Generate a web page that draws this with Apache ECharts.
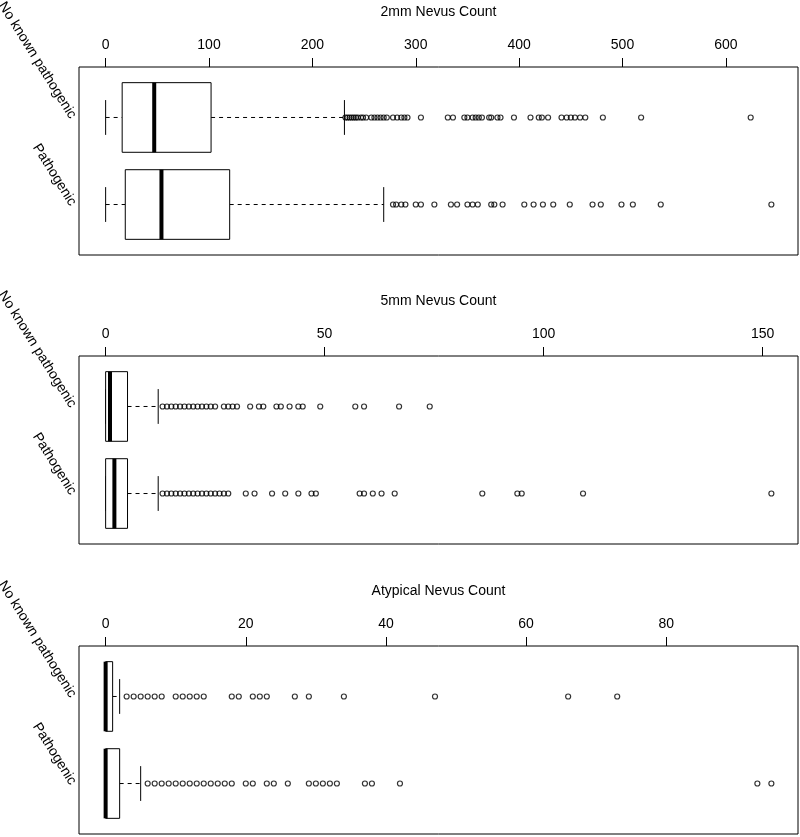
<!DOCTYPE html>
<html>
<head>
<meta charset="utf-8">
<script src="https://cdn.jsdelivr.net/npm/echarts@6/dist/echarts.min.js"></script>
<style>html,body{margin:0;padding:0;background:#fff}#c{width:800px;height:837px}</style>
</head>
<body>
<div id="c"></div>
<script>
const categories = ['No known pathogenic', 'Pathogenic'];
const panelTitles = ['2mm Nevus Count', '5mm Nevus Count', 'Atypical Nevus Count'];

const ticks2mm = [0, 100, 200, 300, 400, 500, 600];
const ticks5mm = [0, 50, 100, 150];
const ticksAtyp = [0, 20, 40, 60, 80];

// [lower whisker, Q1, median, Q3, upper whisker] for No known pathogenic, Pathogenic
const box2mm = [[0, 16, 47, 102, 231], [0, 19, 54, 120, 269]];
const box5mm = [[0, 0, 1, 5, 12], [0, 0, 2, 5, 12]];
const boxAtyp = [[0, 0, 0, 1, 2], [0, 0, 0, 2, 5]];

const out2mmNKP = [232, 234, 236, 238, 240, 242, 244, 247, 249, 252, 257, 260, 263, 266, 269, 272, 278, 282, 286, 289, 292, 305, 331, 336, 347, 350, 355, 358, 361, 364, 371, 373, 379, 382, 395, 411, 419, 422, 428, 441, 446, 450, 454, 459, 464, 481, 518, 624];
const out2mmPath = [278, 281, 286, 290, 300, 305, 318, 334, 340, 350, 355, 360, 373, 376, 384, 405, 414, 423, 433, 449, 471, 479, 499, 510, 537, 644];
const out5mmNKP = [13, 14, 15, 16, 17, 18, 19, 20, 21, 22, 23, 24, 25, 27, 28, 29, 30, 33, 35, 36, 39, 40, 42, 44, 45, 49, 57, 59, 67, 74];
const out5mmPath = [13, 14, 15, 16, 17, 18, 19, 20, 21, 22, 23, 24, 25, 26, 27, 28, 32, 34, 38, 41, 44, 47, 48, 58, 59, 61, 63, 66, 86, 94, 95, 109, 152];
const outAtypNKP = [3, 4, 5, 6, 7, 8, 10, 11, 12, 13, 14, 18, 19, 21, 22, 23, 27, 29, 34, 47, 66, 73];
const outAtypPath = [6, 7, 8, 9, 10, 11, 12, 13, 14, 15, 16, 17, 18, 20, 21, 23, 24, 26, 29, 30, 31, 32, 33, 37, 38, 42, 93, 95];

const panels = [
  {title: panelTitles[0], ticks: ticks2mm, box: box2mm, out: [out2mmNKP, out2mmPath]},
  {title: panelTitles[1], ticks: ticks5mm, box: box5mm, out: [out5mmNKP, out5mmPath]},
  {title: panelTitles[2], ticks: ticksAtyp, box: boxAtyp, out: [outAtypNKP, outAtypPath]}
];
const gridTops = [67, 356, 646];
const FONT = 'Liberation Sans, Arial, Helvetica, sans-serif';

function renderBox(params, api) {
  const c = api.value(0);
  const lo = api.value(1), q1 = api.value(2), med = api.value(3), q3 = api.value(4), hi = api.value(5);
  const hw = 0.4, cw = 0.2;
  const p = (x, y) => api.coord([x, y]);
  const a = p(q1, c - hw), b = p(q3, c + hw);
  const solid = {stroke: '#000', lineWidth: 1, fill: null};
  const dashed = {stroke: '#000', lineWidth: 1, lineDash: [4, 4], fill: null};
  const line = (x1, y1, x2, y2, style) => {
    const s = p(x1, y1), e = p(x2, y2);
    return {type: 'line', shape: {x1: s[0], y1: s[1], x2: e[0], y2: e[1]}, style: style};
  };
  return {
    type: 'group',
    children: [
      line(lo, c, q1, c, dashed),
      line(q3, c, hi, c, dashed),
      line(lo, c - cw, lo, c + cw, solid),
      line(hi, c - cw, hi, c + cw, solid),
      {type: 'rect', shape: {x: Math.min(a[0], b[0]), y: Math.min(a[1], b[1]), width: Math.abs(b[0] - a[0]), height: Math.abs(b[1] - a[1])},
       style: {fill: '#fff', stroke: '#000', lineWidth: 1}},
      line(med, c - hw, med, c + hw, {stroke: '#000', lineWidth: 4})
    ]
  };
}

const grid = [], xAxis = [], yAxis = [], series = [];
panels.forEach((pn, i) => {
  const all = pn.box.flat().concat(pn.out[0], pn.out[1]);
  const mn = Math.min(...all), mx = Math.max(...all);
  const ext = (mx - mn) * 0.04;
  grid.push({left: 79, right: 2, top: gridTops[i], height: 188, show: true, borderColor: '#000', borderWidth: 1,
    backgroundColor: 'transparent', containLabel: false, outerBoundsMode: 'none'});
  xAxis.push({
    type: 'value', gridIndex: i, position: 'top', min: mn - ext, max: mx + ext,
    name: pn.title, nameLocation: 'middle', nameGap: 48, nameMoveOverlap: false,
    nameTextStyle: {fontFamily: FONT, fontSize: 14, color: '#000'},
    axisLine: {show: false},
    axisTick: {show: true, inside: false, length: 9, customValues: pn.ticks, lineStyle: {color: '#000', width: 1}},
    axisLabel: {show: true, customValues: pn.ticks, margin: 15, fontFamily: FONT, fontSize: 14, color: '#000'},
    splitLine: {show: false}
  });
  yAxis.push({
    type: 'value', gridIndex: i, min: 0.42, max: 2.58, inverse: true,
    axisLine: {show: false}, axisTick: {show: false}, splitLine: {show: false},
    axisLabel: {show: true, customValues: [1, 2], rotate: -58, margin: 6, fontFamily: FONT, fontSize: 14, color: '#000',
      formatter: v => categories[Math.round(v) - 1] || ''}
  });
  series.push({
    type: 'custom', xAxisIndex: i, yAxisIndex: i, renderItem: renderBox,
    encode: {x: [1, 2, 3, 4, 5], y: 0},
    data: pn.box.map((b, k) => [k + 1].concat(b)), silent: true
  });
  series.push({
    type: 'scatter', xAxisIndex: i, yAxisIndex: i, symbol: 'circle', symbolSize: 5,
    itemStyle: {color: 'rgba(0,0,0,0)', borderColor: '#000', borderWidth: 1.2},
    data: pn.out[0].map(v => [v, 1]).concat(pn.out[1].map(v => [v, 2])), silent: true
  });
});

const chart = echarts.init(document.getElementById('c'), null, {renderer: 'canvas'});
chart.setOption({animation: false, backgroundColor: '#fff', grid, xAxis, yAxis, series});
</script>
</body>
</html>
